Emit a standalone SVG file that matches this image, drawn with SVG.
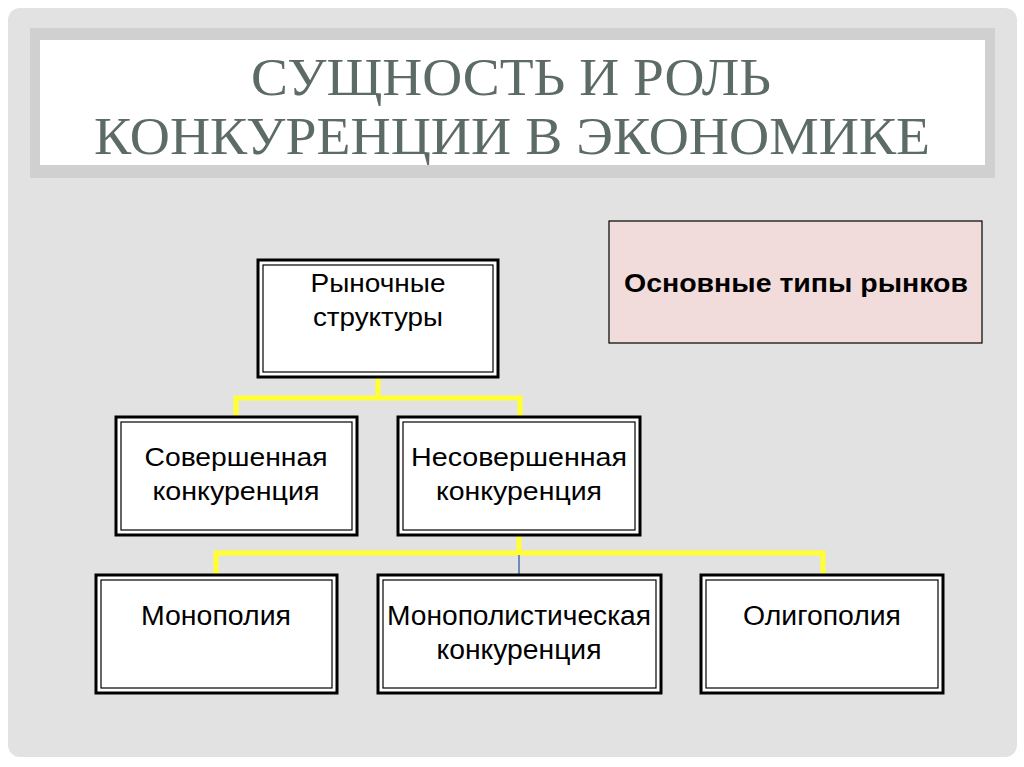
<svg xmlns="http://www.w3.org/2000/svg" width="1024" height="767" viewBox="0 0 1024 767">
<style>
.node-outer{fill:#fff;stroke:#000;stroke-width:3}
.node-inner{fill:none;stroke:#000;stroke-width:1.2}
.t{font-family:"Liberation Sans",Arial,sans-serif;font-size:25px;fill:#000;text-anchor:middle}
.tn{font-family:"Liberation Sans",Arial,sans-serif;font-size:27px;fill:#000;text-anchor:middle}
.title{font-family:"Liberation Serif","Times New Roman",serif;font-size:53px;fill:#5d6b66;text-anchor:middle}
.yl{stroke:#ffff33;stroke-width:5;fill:none}
</style>
<rect width="1024" height="767" fill="#fff"/>
<rect x="8" y="8" width="1009" height="749" rx="12" fill="#e2e2e2"/>
<rect x="30" y="28" width="965" height="150" fill="#d0d0d0"/>
<rect x="40" y="40" width="945" height="125" fill="#fff"/>
<text class="title" x="511" y="95" textLength="520" lengthAdjust="spacingAndGlyphs">СУЩНОСТЬ И РОЛЬ</text>
<text class="title" x="512" y="154" textLength="836" lengthAdjust="spacingAndGlyphs">КОНКУРЕНЦИИ В ЭКОНОМИКЕ</text>
<g id="connectors">
<polyline class="yl" points="236,416 236,398 520,398 520,416"/>
<line class="yl" x1="378" y1="377" x2="378" y2="398"/>
<polyline class="yl" points="216,574 216,553 823,553 823,574"/>
<line class="yl" x1="519" y1="535" x2="519" y2="553"/>
<line x1="519" y1="555" x2="519" y2="574" stroke="#4a6fa5" stroke-width="1.5"/>
</g>
<g id="node-root">
<rect class="node-outer" x="258" y="260" width="240" height="117"/>
<rect class="node-inner" x="263" y="265" width="230" height="107"/>
<text class="t" x="378" y="292" textLength="135" lengthAdjust="spacingAndGlyphs">Рыночные</text>
<text class="t" x="378" y="326" textLength="130" lengthAdjust="spacingAndGlyphs">структуры</text>
</g>
<g id="node-perfect">
<rect class="node-outer" x="116" y="417" width="241" height="118"/>
<rect class="node-inner" x="121" y="422" width="231" height="108"/>
<text class="t" x="236" y="466" textLength="183" lengthAdjust="spacingAndGlyphs">Совершенная</text>
<text class="t" x="236" y="500" textLength="167" lengthAdjust="spacingAndGlyphs">конкуренция</text>
</g>
<g id="node-imperfect">
<rect class="node-outer" x="398" y="417" width="242" height="118"/>
<rect class="node-inner" x="403" y="422" width="232" height="108"/>
<text class="t" x="519" y="466" textLength="216" lengthAdjust="spacingAndGlyphs">Несовершенная</text>
<text class="t" x="519" y="500" textLength="166" lengthAdjust="spacingAndGlyphs">конкуренция</text>
</g>
<g id="node-monopoly">
<rect class="node-outer" x="96" y="575" width="241" height="118"/>
<rect class="node-inner" x="101" y="580" width="231" height="108"/>
<text class="tn" x="216" y="625" textLength="150" lengthAdjust="spacingAndGlyphs">Монополия</text>
</g>
<g id="node-monocomp">
<rect class="node-outer" x="378" y="575" width="283" height="118"/>
<rect class="node-inner" x="383" y="580" width="273" height="108"/>
<text class="tn" x="519" y="625" textLength="264" lengthAdjust="spacingAndGlyphs">Монополистическая</text>
<text class="tn" x="519" y="659" textLength="165" lengthAdjust="spacingAndGlyphs">конкуренция</text>
</g>
<g id="node-oligopoly">
<rect class="node-outer" x="701" y="575" width="242" height="118"/>
<rect class="node-inner" x="706" y="580" width="232" height="108"/>
<text class="tn" x="822" y="625" textLength="158" lengthAdjust="spacingAndGlyphs">Олигополия</text>
</g>
<g id="node-types">
<rect x="609" y="221" width="373" height="122" fill="#f2dcdb" stroke="#000" stroke-width="1.2"/>
<text class="t" x="796" y="292" font-weight="bold" textLength="344" lengthAdjust="spacingAndGlyphs">Основные типы рынков</text>
</g>
</svg>
